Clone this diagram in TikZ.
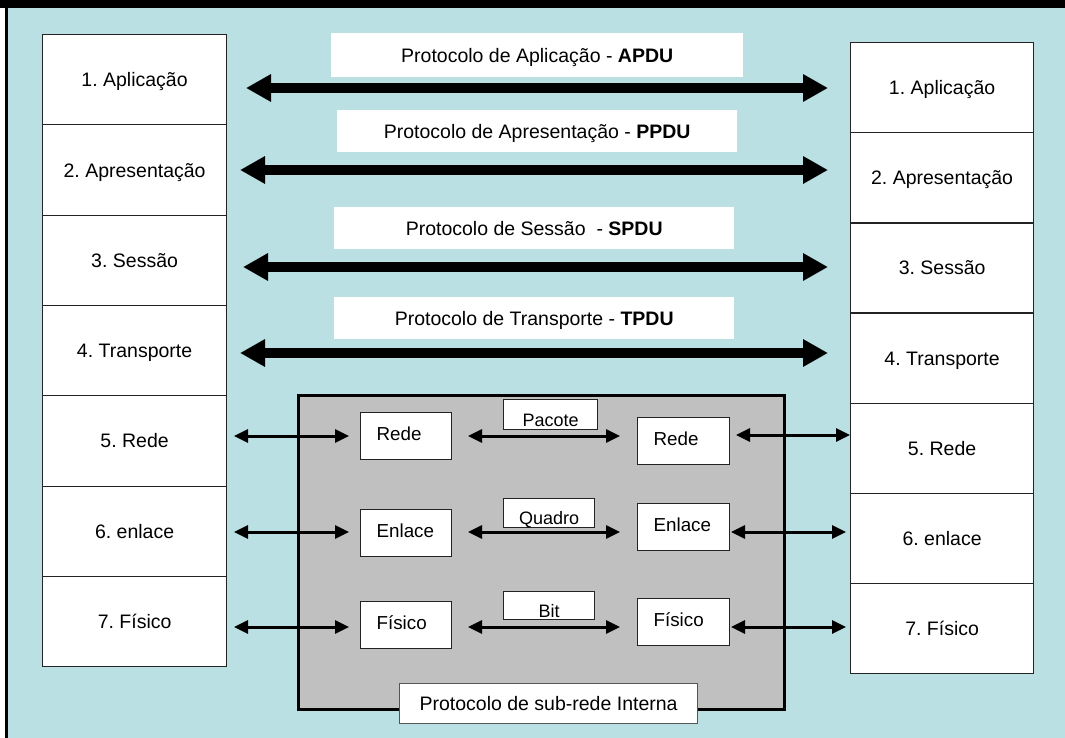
\documentclass[tikz,border=0pt]{standalone}
\usepackage{fontspec}
\setmainfont{Liberation Sans}
\usetikzlibrary{arrows.meta}
\frenchspacing
\definecolor{panel}{RGB}{186,224,227}
\definecolor{subnet}{RGB}{192,192,192}
\definecolor{edge}{RGB}{35,35,35}
\definecolor{softedge}{RGB}{85,85,85}
\begin{document}
\begin{tikzpicture}[x=1pt,y=-1pt,
  layer/.style={draw=edge, line width=1.2pt, fill=white, anchor=north west,
    inner sep=0pt, text height=14pt, text depth=0pt,
    font=\fontsize{19.5}{23}\selectfont},
  banner/.style={fill=white, anchor=north west, inner sep=0pt,
    text height=14pt, text depth=0pt, font=\fontsize{19.5}{23}\selectfont},
  hop/.style={draw=edge, line width=1.2pt, fill=white, anchor=north west,
    minimum height=47pt, inner xsep=16pt, inner ysep=0pt, align=left,
    text height=14pt, text depth=5pt, font=\fontsize{18.8}{22}\selectfont},
  tag/.style={draw=edge, line width=1.2pt, fill=white, anchor=north west,
    inner sep=0pt, text height=23pt, text depth=0pt,
    font=\fontsize{18}{21}\selectfont},
  bigarrow/.style={line width=10pt,
    {Triangle[length=25pt,width=26pt]}-{Triangle[length=25pt,width=26pt]}},
  link/.style={line width=3pt,
    {Triangle[length=14pt,width=13pt]}-{Triangle[length=14pt,width=13pt]}}
]
\useasboundingbox (0,0) rectangle (1065,738);

% frame and background
\fill[white] (0,0) rectangle (1065,738);
\fill[panel] (5,0) rectangle (1065,738);
\fill[black] (0,0) rectangle (1065,8);
\fill[black] (5,0) rectangle (7.5,738);

% left protocol stack
\node[layer, minimum width=184pt, minimum height=90.3pt] (L1) at (42,34)    {1. Aplicação};
\node[layer, minimum width=184pt, minimum height=90.3pt] (L2) at (42,124.3) {2. Apresentação};
\node[layer, minimum width=184pt, minimum height=90.3pt] (L3) at (42,214.6) {3. Sessão};
\node[layer, minimum width=184pt, minimum height=90.3pt] (L4) at (42,304.9) {4. Transporte};
\node[layer, minimum width=184pt, minimum height=90.3pt] (L5) at (42,395.2) {5. Rede};
\node[layer, minimum width=184pt, minimum height=90.3pt] (L6) at (42,485.5) {6. enlace};
\node[layer, minimum width=184pt, minimum height=90.3pt] (L7) at (42,575.8) {7. Físico};

% right protocol stack
\node[layer, minimum width=183pt, minimum height=90.15pt] (R1) at (850,42)    {1. Aplicação};
\node[layer, minimum width=183pt, minimum height=90.15pt] (R2) at (850,132.15) {2. Apresentação};
\node[layer, minimum width=183pt, minimum height=90.15pt] (R3) at (850,222.3)  {3. Sessão};
\node[layer, minimum width=183pt, minimum height=90.15pt] (R4) at (850,312.45) {4. Transporte};
\node[layer, minimum width=183pt, minimum height=90.15pt] (R5) at (850,402.6)  {5. Rede};
\node[layer, minimum width=183pt, minimum height=90.15pt] (R6) at (850,492.75) {6. enlace};
\node[layer, minimum width=183pt, minimum height=90.15pt] (R7) at (850,582.9)  {7. Físico};

% peer protocol banners
\node[banner, minimum width=412pt, minimum height=44pt] (apdu) at (331,33)  {Protocolo de Aplicação - \textbf{APDU}};
\node[banner, minimum width=400pt, minimum height=42pt] (ppdu) at (337,110) {Protocolo de Apresentação - \textbf{PPDU}};
\node[banner, minimum width=400pt, minimum height=42pt] (spdu) at (334,207) {Protocolo de Sessão\ \ - \textbf{SPDU}};
\node[banner, minimum width=400pt, minimum height=42pt] (tpdu) at (334,297) {Protocolo de Transporte - \textbf{TPDU}};

% peer protocol arrows
\coordinate (a1l) at (246,88);  \coordinate (a1r) at (828,88);
\coordinate (a2l) at (240,170); \coordinate (a2r) at (828,170);
\coordinate (a3l) at (243,267); \coordinate (a3r) at (828,267);
\coordinate (a4l) at (240,353); \coordinate (a4r) at (828,353);
\draw[bigarrow] (a1l) -- (a1r);
\draw[bigarrow] (a2l) -- (a2r);
\draw[bigarrow] (a3l) -- (a3r);
\draw[bigarrow] (a4l) -- (a4r);

% internal subnet
\node[draw=black, line width=3pt, fill=subnet, anchor=north west, inner sep=0pt,
  minimum width=486pt, minimum height=314pt] (subnet) at (297,394) {};

\node[hop, text width=59pt] (nA) at (360,412) {Rede};
\node[hop, text width=59pt] (eA) at (360,509) {Enlace};
\node[hop, text width=59pt] (fA) at (360,601) {Físico};
\node[hop, text width=60pt] (nB) at (637,417) {Rede};
\node[hop, text width=60pt] (eB) at (637,503) {Enlace};
\node[hop, text width=60pt] (fB) at (637,598) {Físico};

\node[tag, minimum width=94pt, minimum height=30pt] (pkt) at (503,399) {Pacote};
\node[tag, minimum width=91pt, minimum height=29pt] (frm) at (503,498) {Quadro};
\node[tag, minimum width=91pt, minimum height=28pt] (bit) at (503,591) {Bit};

% layer-to-layer links
\coordinate (n1) at (234,436); \coordinate (n2) at (349,436);
\coordinate (n3) at (468,436); \coordinate (n4) at (620,436);
\coordinate (n5) at (736,435); \coordinate (n6) at (850,435);
\coordinate (e1) at (234,532); \coordinate (e2) at (349,532);
\coordinate (e3) at (468,532); \coordinate (e4) at (620,532);
\coordinate (e5) at (731,532); \coordinate (e6) at (846,532);
\coordinate (f1) at (234,627); \coordinate (f2) at (349,627);
\coordinate (f3) at (468,627); \coordinate (f4) at (620,627);
\coordinate (f5) at (731,627); \coordinate (f6) at (846,627);
\draw[link] (n1) -- (n2);
\draw[link] (n3) -- (n4);
\draw[link] (n5) -- (n6);
\draw[link] (e1) -- (e2);
\draw[link] (e3) -- (e4);
\draw[link] (e5) -- (e6);
\draw[link] (f1) -- (f2);
\draw[link] (f3) -- (f4);
\draw[link] (f5) -- (f6);

% subnet caption
\node[draw=softedge, line width=1.2pt, fill=white, anchor=north west, inner sep=0pt,
  minimum width=298pt, minimum height=40pt, text height=14pt, text depth=0pt,
  font=\fontsize{19.5}{23}\selectfont] (cap) at (399,683) {Protocolo de sub-rede Interna};
\end{tikzpicture}
\end{document}
